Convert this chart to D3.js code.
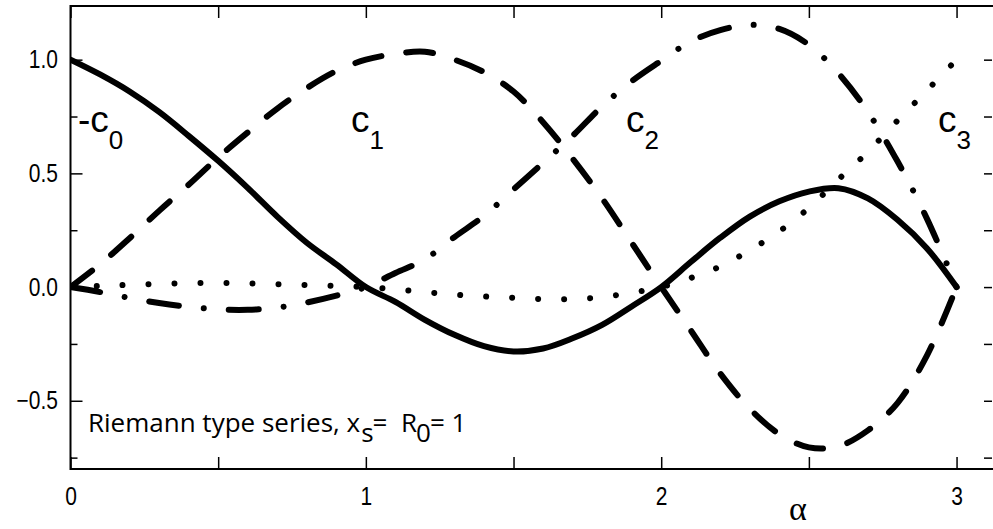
<!DOCTYPE html>
<html>
<head>
<meta charset="utf-8">
<script src="https://cdn.jsdelivr.net/npm/d3@7"></script>
<style>
    body { margin: 0; background: #fff; }
    svg { display: block; }
    .tick text { font-family: "Liberation Sans", Arial, sans-serif; font-size: 25px; fill: #000; }
    .curve-label { font-family: "Liberation Sans", Arial, sans-serif; fill: #000; }
</style>
</head>
<body>
<div id="chart"></div>
<script>

// alpha grid the curves were read at
const alpha = [0, 0.1, 0.2, 0.3, 0.4, 0.5, 0.6, 0.7, 0.8, 0.9,
    1.0, 1.1, 1.2, 1.3, 1.4, 1.5, 1.6, 1.7, 1.8, 1.9,
    2.0, 2.1, 2.2, 2.3, 2.4, 2.5, 2.6, 2.7, 2.8, 2.9, 3.0];

// -c0 (solid)
const minusC0 = [1.0, 0.935, 0.86, 0.77, 0.665, 0.555, 0.436, 0.31, 0.195, 0.1,
    0.0, -0.065, -0.144, -0.21, -0.26, -0.283, -0.27, -0.225, -0.166, -0.085,
    0.0, 0.11, 0.217, 0.31, 0.377, 0.42, 0.435, 0.39, 0.296, 0.17, 0.0];

// c1 (dashed)
const c1 = [0.0, 0.1, 0.215, 0.335, 0.45, 0.57, 0.68, 0.785, 0.875, 0.95,
    1.0, 1.025, 1.035, 1.0, 0.945, 0.86, 0.725, 0.565, 0.39, 0.195,
    0.0, -0.19, -0.38, -0.535, -0.647, -0.705, -0.70, -0.63, -0.51, -0.30, 0.0];

// c2 (dash-dot)
const c2 = [0.0, -0.022, -0.048, -0.07, -0.087, -0.098, -0.1, -0.09, -0.068, -0.038,
    0.0, 0.062, 0.122, 0.22, 0.313, 0.43, 0.546, 0.665, 0.795, 0.905,
    0.995, 1.08, 1.13, 1.153, 1.135, 1.065, 0.94, 0.77, 0.553, 0.30, 0.0];

// c3 (dotted)
const c3 = [0.0, 0.005, 0.01, 0.014, 0.017, 0.018, 0.016, 0.013, 0.009, 0.005,
    0.0, -0.01, -0.022, -0.033, -0.041, -0.047, -0.053, -0.053, -0.044, -0.025,
    0.0, 0.04, 0.091, 0.162, 0.245, 0.348, 0.473, 0.595, 0.732, 0.865, 1.0];

const xMajor = [0, 1, 2, 3];
const xTicks = [0, 0.5, 1, 1.5, 2, 2.5, 3];
const yMajor = [-0.5, 0, 0.5, 1.0];
const yMinor = [-0.75, -0.25, 0.25, 0.75];

const width = 993, height = 529;
const plotLeft = 70.5, plotTop = 6, plotBottom = 469, plotRight = 992;

let svg = d3.select("#chart").append("svg")
    .attr("width", width)
    .attr("height", height);

let x = d3.scaleLinear().domain([0, 3.12]).range([plotLeft, plotRight]);
let y = d3.scaleLinear().domain([-0.8, 1.236]).range([plotBottom, plotTop]);

// clip for curves
svg.append("defs").append("clipPath").attr("id", "plot")
    .append("rect")
    .attr("x", plotLeft).attr("y", plotTop)
    .attr("width", plotRight - plotLeft).attr("height", plotBottom - plotTop);

// axes, ticks point inward
let xAxis = d3.axisBottom(x)
    .tickValues(xTicks)
    .tickSizeInner(-12).tickSizeOuter(0)
    .tickPadding(18)
    .tickFormat(d => xMajor.includes(d) ? d3.format("d")(d) : "");

svg.append("g")
    .attr("class", "axis x-axis")
    .attr("transform", `translate(0, ${plotBottom})`)
    .call(xAxis);

svg.append("g")
    .attr("class", "axis x-top")
    .attr("transform", `translate(0, ${plotTop})`)
    .call(d3.axisTop(x).tickValues(xTicks).tickSizeInner(-12).tickSizeOuter(0).tickFormat(""));

svg.append("g")
    .attr("class", "axis y-axis")
    .attr("transform", `translate(${plotLeft}, 0)`)
    .call(d3.axisLeft(y).tickValues(yMajor).tickSizeInner(-12).tickSizeOuter(0)
        .tickPadding(15).tickFormat(d => d3.format(".1f")(d).replace("-", "\u2212")));

svg.append("g")
    .attr("class", "axis y-minor")
    .attr("transform", `translate(${plotLeft}, 0)`)
    .call(d3.axisLeft(y).tickValues(yMinor).tickSizeInner(-7).tickSizeOuter(0).tickFormat(""));

svg.append("g")
    .attr("class", "axis y-right")
    .attr("transform", `translate(${plotRight}, 0)`)
    .call(d3.axisRight(y).tickValues(yMajor.concat(yMinor)).tickSizeInner(-8).tickSizeOuter(0).tickFormat(""));

svg.selectAll(".axis path").remove();
svg.selectAll(".axis line").attr("stroke", "#000").attr("stroke-width", 1.5);
// narrow tick digits like the original
svg.selectAll(".axis .tick text").attr("transform", "scale(0.84,1)");

// frame
svg.append("path")
    .attr("d", `M${plotRight + 2},${plotTop} H${plotLeft} V${plotBottom} H${plotRight + 2}`)
    .attr("fill", "none")
    .attr("stroke", "#000")
    .attr("stroke-width", 2);

// curves
let line = d3.line()
    .x(d => x(d[0]))
    .y(d => y(d[1]))
    .curve(d3.curveCatmullRom);

let series = [
    {values: minusC0, dash: null},
    {values: c1, dash: "27,25"},
    {values: c2, dash: "30,25,0.01,25"},
    {values: c3, dash: "0.01,26"}
];

svg.append("g")
    .attr("clip-path", "url(#plot)")
    .selectAll("path")
    .data(series)
    .enter()
    .append("path")
    .attr("d", d => line(alpha.map((a, i) => [a, d.values[i]])))
    .attr("fill", "none")
    .attr("stroke", "#000")
    .attr("stroke-width", 6)
    .attr("stroke-linecap", "round")
    .attr("stroke-dasharray", d => d.dash);

// curve labels
let labels = [
    {txt: "-c", sub: "0", x: 78},
    {txt: "c", sub: "1", x: 351},
    {txt: "c", sub: "2", x: 626},
    {txt: "c", sub: "3", x: 938}
];

let lab = svg.selectAll(".curve-label")
    .data(labels)
    .enter()
    .append("text")
    .attr("class", "curve-label")
    .attr("x", d => d.x)
    .attr("y", 132);

lab.append("tspan").attr("font-size", 37).text(d => d.txt);
lab.append("tspan").attr("font-size", 26).attr("dy", 17).text(d => d.sub);

// annotation
let note = svg.append("text")
    .attr("x", 88)
    .attr("y", 432)
    .attr("font-family", "'Open Sans', 'Noto Sans', sans-serif")
    .attr("font-size", 26)
    .attr("fill", "#000");

note.append("tspan").text("Riemann type series, x");
note.append("tspan").attr("dx", 1).attr("dy", 10).text("s");
note.append("tspan").attr("dx", -1).attr("dy", -10).text("=\u00a0 R");
note.append("tspan").attr("dx", -1).attr("dy", 10).text("0");
note.append("tspan").attr("dx", -1).attr("dy", -10).text("= 1");

// axis title
svg.append("text")
    .attr("x", 798)
    .attr("y", 520)
    .attr("text-anchor", "middle")
    .attr("font-family", "'Liberation Serif', 'DejaVu Serif', serif")
    .attr("font-size", 34)
    .attr("fill", "#000")
    .text("\u03b1");

</script>
</body>
</html>
